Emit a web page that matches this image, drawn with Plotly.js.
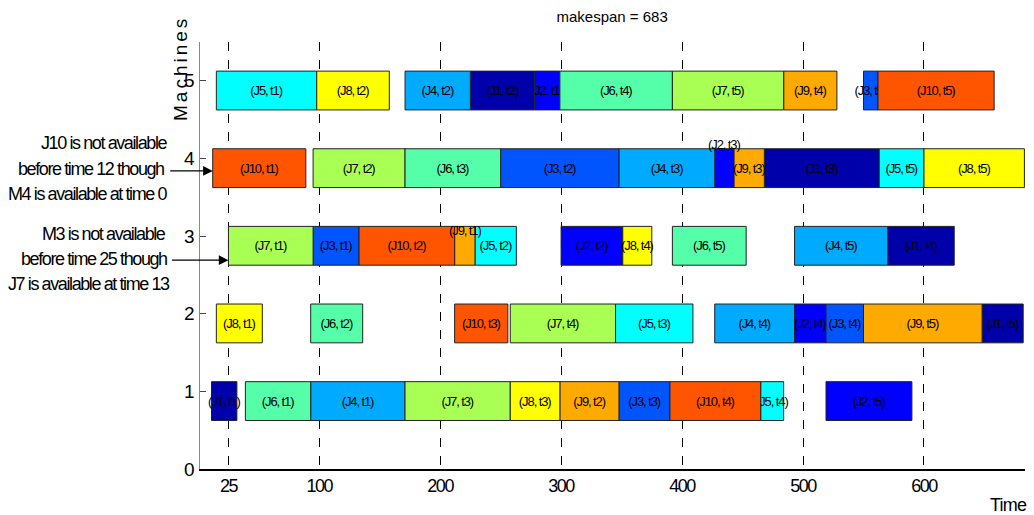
<!DOCTYPE html>
<html><head><meta charset="utf-8">
<script src="https://cdn.plot.ly/plotly-3.0.1.min.js"></script>
<style>body{margin:0;background:#fff}#chart{width:1034px;height:515px}</style>
</head><body><div id="chart"></div>
<script>
// operations, ordered by task then job (drawing order)
const opJob     = [1,2,3,4,5,6,7,8,9,10, 1,2,3,4,5,6,7,8,9,10, 1,2,3,4,5,6,7,8,9,10, 1,2,3,4,5,6,7,8,9,10, 1,2,3,4,5,6,7,8,9,10];
const opTask    = [1,1,1,1,1,1,1,1,1,1, 2,2,2,2,2,2,2,2,2,2, 3,3,3,3,3,3,3,3,3,3, 4,4,4,4,4,4,4,4,4,4, 5,5,5,5,5,5,5,5,5,5];
const opMachine = [1,5,3,1,5,1,3,2,3,4, 5,3,4,5,3,2,4,5,1,3, 4,4,1,4,2,4,1,1,4,2, 3,2,2,2,1,5,2,3,5,1, 2,1,5,3,4,3,5,4,2,5];
const opStart   = [11,278,95,93,15,39,25,15,212,12, 225,300,250,171,229,93,95,98,299,133, 468,427,348,348,345,171,171,258,443,212, 570,493,519,427,465,299,258,351,484,390, 648,519,550,493,563,392,392,600,550,562];
const opEnd     = [32,299,133,171,98,93,95,53,229,89, 278,351,348,225,263,136,171,158,348,212, 563,443,390,427,409,250,258,299,468,256, 625,519,550,493,484,392,345,375,528,465, 682,590,562,570,600,453,484,683,648,658];
const jobColors = ['#0000AA','#0000FF','#0055FF','#00AAFF','#00FFFF','#55FFAA','#AAFF55','#FFFF00','#FFAA00','#FF5500'];
const xTicks = [25,100,200,300,400,500,600];
const yTicks = [0,1,2,3,4,5];
const makespan = 683;
const noteLines1 = ['J10 is not available', 'before time 12 though', 'M4 is available at time 0'];
const noteLines2 = ['M3 is not available', 'before time 25 though', 'J7 is available at time 13'];
const raisedLabels = {'2-3': 0.31, '9-1': 0.2}; // labels drawn above small bars

const FONT = 'Liberation Sans, Arial, sans-serif';
const narrow = (s, px) => '<span style="letter-spacing:' + px + 'px">' + s + '</span>';

const traces = [];
const annotations = [];
for (let i = 0; i < opJob.length; i++) {
  const label = '(J' + opJob[i] + ', t' + opTask[i] + ')';
  const key = opJob[i] + '-' + opTask[i];
  const raised = key in raisedLabels;
  traces.push({
    type: 'bar', orientation: 'h',
    y: [opMachine[i] - 0.125], x: [opEnd[i] - opStart[i]], base: [opStart[i]],
    width: 0.5,
    marker: {color: jobColors[opJob[i] - 1], line: {color: '#222', width: 1}},
    text: [raised ? '' : narrow(label, -1.1)], textposition: 'inside', insidetextanchor: 'middle',
    textangle: 0, constraintext: 'none', cliponaxis: false,
    textfont: {family: FONT, size: 13, color: '#000'},
    hoverinfo: 'skip', showlegend: false
  });
  if (raised) {
    annotations.push({x: (opStart[i] + opEnd[i]) / 2, y: opMachine[i] - 0.125 + raisedLabels[key],
      xref: 'x', yref: 'y', text: narrow(label, -1.1), showarrow: false,
      font: {family: FONT, size: 13, color: '#000'}});
  }
}

const noteFont = {family: FONT, size: 18, color: '#000'};
const lineY1 = [143, 169, 194], lineY2 = [234, 259, 284];
const lineR1 = [169, 166, 169], lineR2 = [168, 169, 172];
const px2py = (py) => (469 - py) / 427;
const px2px = (px) => (px - 200) / 825;
noteLines1.forEach((t, k) => annotations.push({xref: 'paper', yref: 'paper', x: px2px(lineR1[k]), y: px2py(lineY1[k]),
  xanchor: 'right', yanchor: 'middle', text: narrow(t, -1.4), showarrow: false, font: noteFont}));
noteLines2.forEach((t, k) => annotations.push({xref: 'paper', yref: 'paper', x: px2px(lineR2[k]), y: px2py(lineY2[k]),
  xanchor: 'right', yanchor: 'middle', text: narrow(t, -1.4), showarrow: false, font: noteFont}));
annotations.push(
  {xref: 'x', yref: 'y', x: 12, y: 3.84, ax: -44, ay: 0, text: '', showarrow: true,
   arrowhead: 2, arrowsize: 1.6, arrowwidth: 1.2, arrowcolor: '#000'},
  {xref: 'x', yref: 'y', x: 25, y: 2.69, ax: -58, ay: 0, text: '', showarrow: true,
   arrowhead: 2, arrowsize: 1.6, arrowwidth: 1.2, arrowcolor: '#000'},
  {xref: 'paper', yref: 'paper', x: px2px(1008), y: px2py(505), xanchor: 'center', yanchor: 'middle',
   text: narrow('Time', -0.8), showarrow: false, font: {family: FONT, size: 18, color: '#000'}},
  {xref: 'paper', yref: 'paper', x: px2px(181), y: px2py(69), xanchor: 'center', yanchor: 'middle',
   text: narrow('Machines', 3), textangle: -90, showarrow: false,
   font: {family: FONT, size: 19, color: '#000'}}
);

const layout = {
  width: 1034, height: 515,
  margin: {l: 200, r: 9, t: 42, b: 46},
  paper_bgcolor: '#fff', plot_bgcolor: '#fff',
  barmode: 'overlay',
  title: {text: 'makespan = ' + makespan, x: 0.592, xanchor: 'center', y: 0.968, yanchor: 'middle',
          font: {family: FONT, size: 15, color: '#000'}},
  xaxis: {range: [1.5, 683.5], tickvals: xTicks, ticktext: xTicks.map(v => narrow(String(v), -1.5)),
          showgrid: true, gridcolor: '#000', griddash: 'dash', gridwidth: 1,
          zeroline: false, showline: true, linecolor: '#000', linewidth: 1.5,
          ticks: '', tickfont: {family: FONT, size: 18, color: '#000'}},
  yaxis: {range: [0, 5.5], tickvals: yTicks, ticktext: yTicks.map(String),
          showgrid: false, zeroline: false, showline: true, linecolor: '#888', linewidth: 1.5,
          ticks: 'inside', ticklen: 6, tickcolor: '#444', tickwidth: 1,
          tickfont: {family: FONT, size: 19, color: '#000'}},
  annotations: annotations,
  showlegend: false
};
Plotly.newPlot('chart', traces, layout, {displayModeBar: false, staticPlot: true});
</script></body></html>
